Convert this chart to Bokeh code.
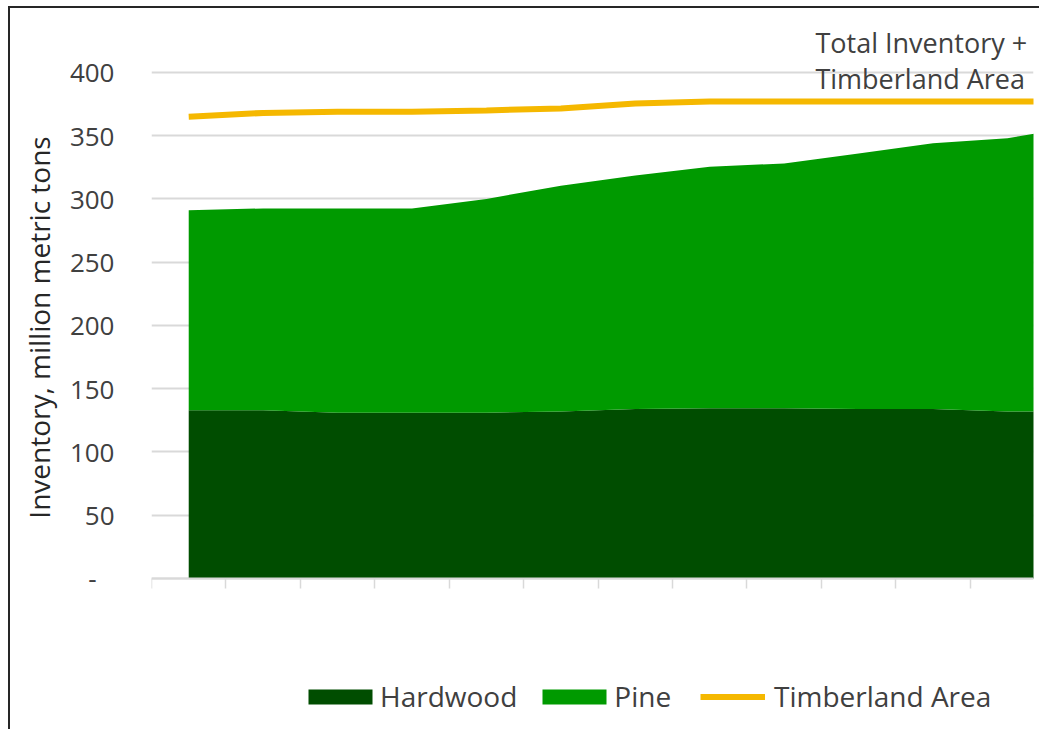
from bokeh.plotting import figure
from bokeh.models import ColumnDataSource, FixedTicker, Legend, LegendItem, Label, Range1d
from bokeh.embed import file_html
from bokeh.resources import INLINE

# ---- data (million metric tons) ----
period = list(range(13))
hardwood = [133, 133, 131, 131, 131, 132, 134, 134.5, 134.5, 134, 134, 132, 132]
pine = [158, 159.5, 161.5, 161.5, 169, 178.5, 184.5, 191, 193.5, 202, 210, 216, 226]
timberland = [365, 368, 369, 369, 370, 371.5, 375.5, 377, 377, 377, 377, 377, 377]
y_ticks = [0, 50, 100, 150, 200, 250, 300, 350, 400]
y_tick_labels = ["-\u00a0\u00a0\u2009", "50", "100", "150", "200", "250", "300", "350", "400"]
series_names = ["Hardwood", "Pine", "Timberland Area"]
note_lines = ["Total Inventory +", "Timberland Area"]
y_title = "Inventory, million metric tons"

FONT = "Open Sans"
TXT = "#404040"
GRID = "#D9D9D9"

src = ColumnDataSource(dict(x=period, hardwood=hardwood, pine=pine, timberland=timberland))

p = figure(width=1031, height=723, output_backend="svg", toolbar_location=None,
           x_range=Range1d(-0.5, 11.35), y_range=Range1d(-111.5, 445),
           min_border_left=141, min_border_right=8, min_border_top=7, min_border_bottom=12)
p.styles = {"margin-left": "8px", "margin-top": "6px",
            "border-left": "2px solid #262626", "border-top": "2px solid #262626"}
p.outline_line_color = None
p.background_fill_color = "white"
p.border_fill_color = "white"

areas = p.varea_stack(["hardwood", "pine"], x="x", source=src, color=["#004D00", "#009A00"])
ln = p.line("x", "timberland", source=src, line_color="#F5B800", line_width=6)

# x axis sits at zero inside the frame
x_ticks = [i - 0.5 for i in range(13)]
p.xaxis.fixed_location = 0
p.xaxis.ticker = FixedTicker(ticks=x_ticks)
p.xaxis.major_label_overrides = {t: "" for t in x_ticks}
p.xaxis.major_label_text_font_size = "1px"
p.xaxis.major_label_standoff = 0
p.xaxis.axis_line_color = GRID
p.xaxis.axis_line_width = 2
p.xaxis.major_tick_line_color = GRID
p.xaxis.major_tick_line_width = 1.5
p.xaxis.major_tick_out = 0
p.xaxis.major_tick_in = -10
p.xaxis.minor_tick_line_color = None

p.yaxis.ticker = FixedTicker(ticks=y_ticks)
p.yaxis.major_label_overrides = {t: l for t, l in zip(y_ticks, y_tick_labels)}
p.yaxis.axis_line_color = None
p.yaxis.major_tick_line_color = None
p.yaxis.minor_tick_line_color = None
p.yaxis.major_tick_out = 0
p.yaxis.major_tick_in = 0
p.yaxis.major_label_standoff = 37
p.yaxis.major_label_text_font = FONT
p.yaxis.major_label_text_font_size = "26px"
p.yaxis.major_label_text_color = TXT
p.yaxis.axis_label = "\u00a0" * 11 + y_title
p.yaxis.axis_label_text_font = FONT
p.yaxis.axis_label_text_font_size = "28px"
p.yaxis.axis_label_text_font_style = "normal"
p.yaxis.axis_label_text_color = "#262626"
p.yaxis.axis_label_standoff = 9

p.xgrid.visible = False
p.ygrid.ticker = FixedTicker(ticks=y_ticks)
p.ygrid.grid_line_color = GRID
p.ygrid.grid_line_width = 2

# annotation text
for t, yv in zip(note_lines, [423.5, 395.5]):
    p.add_layout(Label(x=8.42, y=yv, text=t, text_font=FONT, text_font_size="27px",
                       text_color=TXT, text_baseline="alphabetic"))

common = dict(orientation="horizontal", border_line_color=None, background_fill_alpha=0,
              padding=0, margin=0, label_text_font=FONT, label_text_font_size="28px",
              label_text_color=TXT)
legend_areas = Legend(items=[LegendItem(label=series_names[0], renderers=[areas[0]]),
                             LegendItem(label=series_names[1], renderers=[areas[1]])],
                      location=(149, 4), glyph_width=80, glyph_height=19,
                      label_standoff=0, spacing=17, **common)
legend_line = Legend(items=[LegendItem(label=series_names[2], renderers=[ln])],
                     location=(549, 4), glyph_width=65, glyph_height=19,
                     label_standoff=9, spacing=0, **common)
p.add_layout(legend_areas)
p.add_layout(legend_line)

open("out.html", "w").write(file_html(p, INLINE))
